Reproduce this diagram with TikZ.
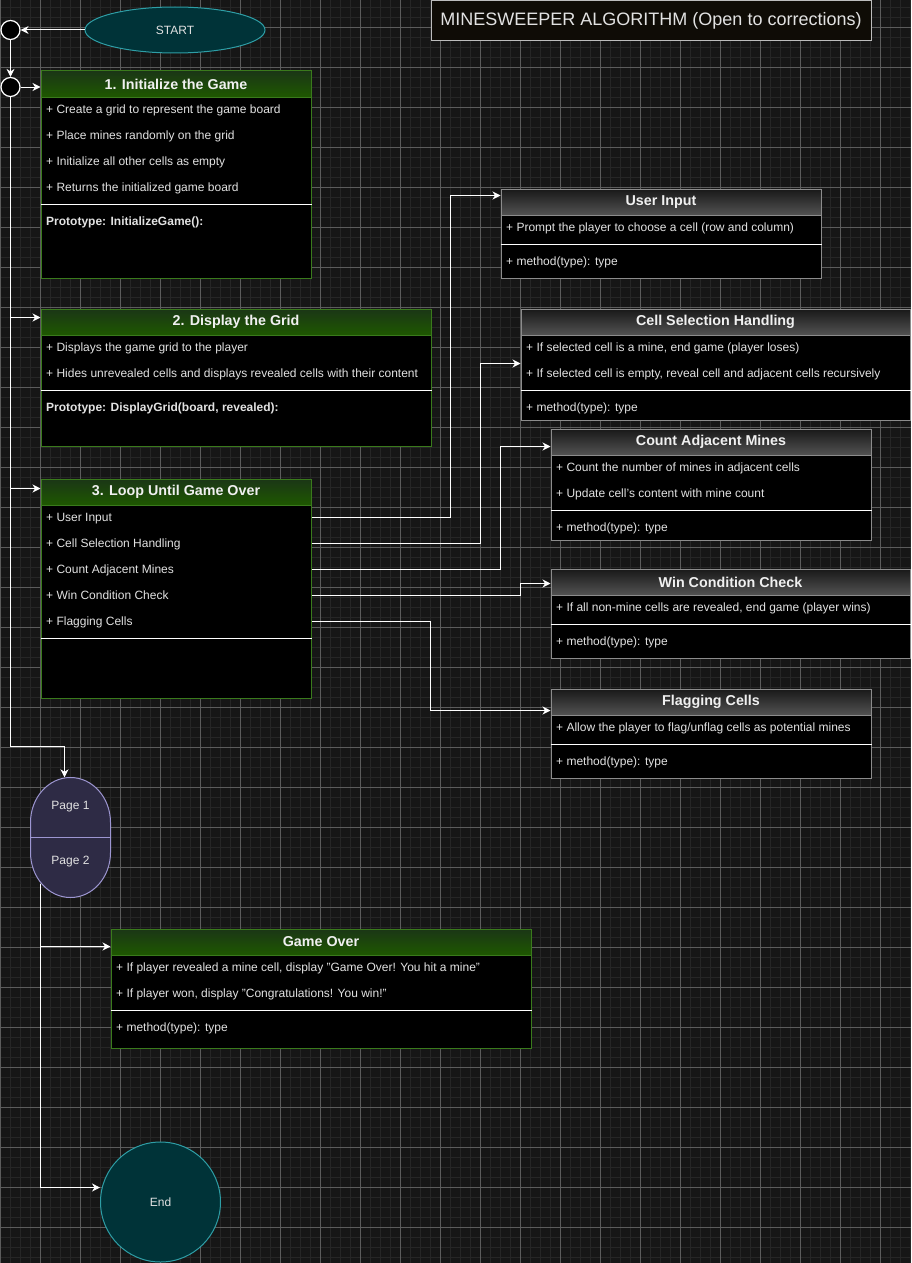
\documentclass[tikz,border=0pt]{standalone}
\usepackage{fontspec}
\setmainfont{Liberation Sans}
\usetikzlibrary{arrows.meta,shapes.geometric}

\definecolor{canvas}{HTML}{161616}
\definecolor{gridmin}{HTML}{262626}
\definecolor{gridmaj}{HTML}{5C5C5C}
\definecolor{grnline}{HTML}{3A7A1C}
\definecolor{grntop}{HTML}{1B3616}
\definecolor{grnbot}{HTML}{1E5800}
\definecolor{grayline}{HTML}{8C8C8C}
\definecolor{graytop}{HTML}{191919}
\definecolor{graybot}{HTML}{525252}
\definecolor{itemtxt}{HTML}{E2E2E2}
\definecolor{headtxt}{HTML}{F0F0F0}
\definecolor{tealfill}{HTML}{003338}
\definecolor{tealline}{HTML}{2E9EA6}
\definecolor{pagefill}{HTML}{2E2B45}
\definecolor{pageline}{HTML}{9D96D2}
\definecolor{titlefill}{HTML}{0F0C06}
\definecolor{titleline}{HTML}{BDBDBD}

\newcommand{\itemfont}{\fontsize{12}{14}\selectfont}
\newcommand{\headfont}{\fontsize{14.3}{16}\selectfont\bfseries}

% one class-style box: body, then shaded header with its title
% #1 name, #2 kind (green/gray), #3 left, #4 top, #5 width, #6 height, #7 title
\newcommand{\umlbox}[7]{%
  \node[body#2, minimum width=#5, minimum height=#6, anchor=north west] (#1) at (#3,#4) {};
  \node[head#2, minimum width=#5, anchor=north west] (#1h) at (#3,#4) {#7};
}

\tikzset{
  gridminor/.style={draw=gridmin, line width=1pt},
  gridmajor/.style={draw=gridmaj, line width=1pt},
  wire/.style={draw=white, line width=1pt},
  flow/.style={wire, -{Stealth[length=8pt,width=8pt,inset=2.5pt]}},
  bodygreen/.style={draw=grnline, fill=black, line width=1pt, inner sep=0pt},
  bodygray/.style={draw=grayline, fill=black, line width=1pt, inner sep=0pt},
  headgreen/.style={draw=grnline, top color=grntop, bottom color=grnbot, line width=1pt,
    inner sep=0pt, minimum height=26, text=headtxt, font=\headfont},
  headgray/.style={draw=grayline, top color=graytop, bottom color=graybot, line width=1pt,
    inner sep=0pt, minimum height=26, text=headtxt, font=\headfont},
  item/.style={anchor=west, inner sep=0pt, text=itemtxt, font=\itemfont,
    text height=8.6pt, text depth=0pt},
  proto/.style={item, font=\itemfont\bfseries},
  sepline/.style={draw=white, line width=1pt},
  terminal/.style={draw=tealline, fill=tealfill, line width=1pt, inner sep=0pt,
    text=itemtxt, font=\itemfont},
  dot/.style={circle, draw=white, fill=black, line width=1.2pt, minimum size=19, inner sep=0pt},
  pagetxt/.style={text=itemtxt, font=\itemfont, inner sep=0pt},
}

\begin{document}
\begin{tikzpicture}[x=1pt,y=-1pt]
\useasboundingbox (0,0) rectangle (911,1263);
\fill[canvas] (0,0) rectangle (911,1263);

% background grid
\foreach \x in {0,10,...,910} \draw[gridminor] (\x+0.5,0) -- (\x+0.5,1263);
\foreach \y in {7,17,...,1257} \draw[gridminor] (0,\y+0.5) -- (911,\y+0.5);
\foreach \x in {0,40,...,880} \draw[gridmajor] (\x+0.5,0) -- (\x+0.5,1263);
\foreach \y in {27,67,...,1227} \draw[gridmajor] (0,\y+0.5) -- (911,\y+0.5);

% title
\node[draw=titleline, fill=titlefill, line width=1pt, minimum width=440, minimum height=40,
  inner sep=0pt, anchor=north west, text=itemtxt, font=\fontsize{18}{20}\selectfont]
  (title) at (430.5,0.5) {MINESWEEPER ALGORITHM (Open to corrections)};

% start and the two junction dots
\node[terminal, ellipse, minimum width=180, minimum height=46] (start) at (175,30) {START};
\node[dot] (c1) at (10.5,30) {};
\node[dot] (c2) at (10.5,87) {};

% 1. Initialize the Game
\umlbox{init}{green}{40.5}{70.5}{270}{207}{1. Initialize the Game}
\node[item] (r1a) at (46,109.5) {+ Create a grid to represent the game board};
\node[item] (r1b) at (46,135.5) {+ Place mines randomly on the grid};
\node[item] (r1c) at (46,161.5) {+ Initialize all other cells as empty};
\node[item] (r1d) at (46,187.5) {+ Returns the initialized game board};
\draw[sepline] (init.west |- 0,204.5) -- (init.east |- 0,204.5);
\node[proto] (p1) at (46,221.5) {Prototype: InitializeGame():};

% 2. Display the Grid
\umlbox{disp}{green}{40.5}{308.5}{390}{137}{2. Display the Grid}
\node[item] (r2a) at (46,347.5) {+ Displays the game grid to the player};
\node[item] (r2b) at (46,373.5) {+ Hides unrevealed cells and displays revealed cells with their content};
\draw[sepline] (disp.west |- 0,390.5) -- (disp.east |- 0,390.5);
\node[proto] (p2) at (46,407.5) {Prototype: DisplayGrid(board, revealed):};

% 3. Loop Until Game Over
\umlbox{loop}{green}{40.5}{478.5}{270}{219}{3. Loop Until Game Over}
\node[item] (r3a) at (46,517) {+ User Input};
\node[item] (r3b) at (46,543) {+ Cell Selection Handling};
\node[item] (r3c) at (46,569) {+ Count Adjacent Mines};
\node[item] (r3d) at (46,595) {+ Win Condition Check};
\node[item] (r3e) at (46,621) {+ Flagging Cells};
\draw[sepline] (loop.west |- 0,638.5) -- (loop.east |- 0,638.5);

% User Input
\umlbox{uin}{gray}{500.5}{188.5}{320}{89}{User Input}
\node[item] (u1) at (506,227.5) {+ Prompt the player to choose a cell (row and column)};
\draw[sepline] (uin.west |- 0,244.5) -- (uin.east |- 0,244.5);
\node[item] (u2) at (506,261.5) {+ method(type): type};

% Cell Selection Handling
\umlbox{cell}{gray}{520.5}{308.5}{389}{111}{Cell Selection Handling}
\node[item] (s1) at (526,347.5) {+ If selected cell is a mine, end game (player loses)};
\node[item] (s2) at (526,373.5) {+ If selected cell is empty, reveal cell and adjacent cells recursively};
\draw[sepline] (cell.west |- 0,390.5) -- (cell.east |- 0,390.5);
\node[item] (s3) at (526,407.5) {+ method(type): type};

% Count Adjacent Mines
\umlbox{adj}{gray}{550.5}{428.5}{320}{111}{Count Adjacent Mines}
\node[item] (a1) at (556,467.5) {+ Count the number of mines in adjacent cells};
\node[item] (a2) at (556,493.5) {+ Update cell's content with mine count};
\draw[sepline] (adj.west |- 0,510.5) -- (adj.east |- 0,510.5);
\node[item] (a3) at (556,527.5) {+ method(type): type};

% Win Condition Check
\umlbox{win}{gray}{550.5}{568.5}{359}{89}{Win Condition Check}
\node[item] (w1) at (556,607.5) {+ If all non-mine cells are revealed, end game (player wins)};
\draw[sepline] (win.west |- 0,624.5) -- (win.east |- 0,624.5);
\node[item] (w2) at (556,641.5) {+ method(type): type};

% Flagging Cells
\umlbox{flag}{gray}{550.5}{688.5}{320}{89}{Flagging Cells}
\node[item] (f1) at (556,727.5) {+ Allow the player to flag/unflag cells as potential mines};
\draw[sepline] (flag.west |- 0,744.5) -- (flag.east |- 0,744.5);
\node[item] (f2) at (556,761.5) {+ method(type): type};

% Game Over
\umlbox{over}{green}{110.5}{928.5}{420}{119}{Game Over}
\node[item] (g1) at (116,967.5) {+ If player revealed a mine cell, display "Game Over! You hit a mine"};
\node[item] (g2) at (116,993.5) {+ If player won, display "Congratulations! You win!"};
\draw[sepline] (over.west |- 0,1010.5) -- (over.east |- 0,1010.5);
\node[item] (g3) at (116,1027.5) {+ method(type): type};

% page connector (two stacked halves)
\node[minimum width=80, minimum height=120, inner sep=0pt] (pg) at (70.5,837.5) {};
\filldraw[draw=pageline, fill=pagefill, line width=1pt]
  (30.5,822.5) arc[start angle=180, end angle=360, x radius=40, y radius=45]
  -- (110.5,852.5) arc[start angle=0, end angle=180, x radius=40, y radius=45] -- cycle;
\draw[draw=pageline, line width=1pt] (pg.west) -- (pg.east);
\node[pagetxt] (pg1) at (70.5,807) {Page 1};
\node[pagetxt] (pg2) at (70.5,862) {Page 2};

% end
\node[terminal, circle, minimum size=120] (endc) at (160.5,1202) {End};

% main flow
\draw[flow] (start) -- (c1);
\draw[flow] (c1) -- (c2);
\draw[flow] (c2) -- (c2 -| init.west);
\coordinate (sp1) at (10.5,746.5);
\coordinate (sp2) at (64.5,746.5);
\draw[flow] (c2) -- (sp1) -- (sp2) -- (sp2 |- pg.north);
\coordinate (j2) at (10.5,317.5);
\coordinate (j3) at (10.5,488.5);
\draw[flow] (j2) -- (j2 -| disp.west);
\draw[flow] (j3) -- (j3 -| loop.west);

% loop items to their detail boxes
\coordinate (ua) at (450.5,195.5);
\coordinate (ca) at (480.5,363.5);
\coordinate (ka) at (500.5,446.5);
\coordinate (wa) at (520.5,583.5);
\coordinate (fa) at (430.5,710.5);
\draw[flow] (loop.east |- r3a) -| (ua) -- (ua -| uin.west);
\draw[flow] (loop.east |- r3b) -| (ca) -- (ca -| cell.west);
\draw[flow] (loop.east |- r3c) -| (ka) -- (ka -| adj.west);
\draw[flow] (loop.east |- r3d) -| (wa) -- (wa -| win.west);
\draw[flow] (loop.east |- r3e) -| (fa) -- (fa -| flag.west);

% after the page connector
\coordinate (pgout) at (40.5,884);
\coordinate (gj) at (40.5,946.5);
\coordinate (ej) at (40.5,1187.5);
\draw[flow] (pgout) -- (ej) -- (ej -| endc.west);
\draw[flow] (gj) -- (gj -| over.west);
\end{tikzpicture}
\end{document}
